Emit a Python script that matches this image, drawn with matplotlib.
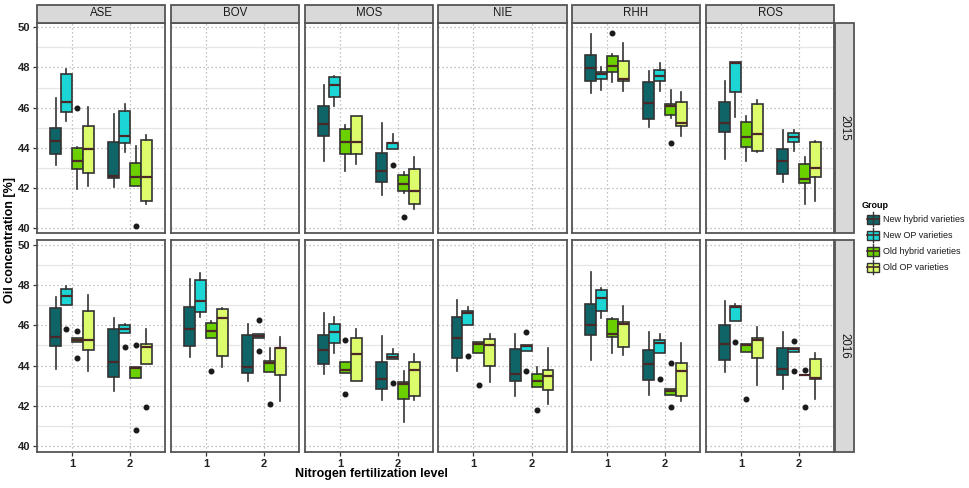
import numpy as np
import matplotlib
matplotlib.use("Agg")
import matplotlib.pyplot as plt
from matplotlib.patches import Rectangle

plt.rcParams['font.family'] = ['Liberation Sans', 'DejaVu Sans']

# facets
sites = ["ASE", "BOV", "MOS", "NIE", "RHH", "ROS"]
years = ["2015", "2016"]
levels = [1, 2]
groups = ["New hybrid varieties", "New OP varieties", "Old hybrid varieties", "Old OP varieties"]
colors = ["#0e6466", "#1cd6d6", "#6ad000", "#dcfc6c"]

# box stats: (whisker low, q1, median, q3, whisker high, outliers)
# order: level 1 (4 groups), then level 2 (4 groups)
ASE_2015 = [
    (43.15, 43.68, 44.36, 44.98, 46.50, []),
    (45.34, 45.80, 46.29, 47.66, 47.91, []),
    (41.97, 42.95, 43.35, 44.00, 44.05, [46.0]),
    (42.09, 42.75, 43.93, 45.07, 46.02, []),
    (42.06, 42.50, 42.62, 44.31, 45.70, []),
    (43.81, 44.25, 44.61, 45.84, 46.20, []),
    (42.11, 42.11, 42.54, 43.25, 44.10, [40.13]),
    (41.18, 41.33, 42.55, 44.38, 44.64, []),
]
MOS_2015 = [
    (43.35, 44.61, 45.17, 46.07, 47.11, []),
    (46.10, 46.53, 47.10, 47.51, 47.55, []),
    (42.87, 43.71, 44.30, 44.94, 45.12, []),
    (43.20, 43.71, 44.30, 45.57, 45.57, []),
    (41.67, 42.31, 42.85, 43.75, 45.21, []),
    (43.93, 43.93, 44.22, 44.26, 44.68, [43.15]),
    (41.77, 41.84, 42.22, 42.64, 42.79, [40.58]),
    (40.95, 41.19, 41.86, 42.95, 43.52, []),
]
RHH_2015 = [
    (46.73, 47.31, 47.96, 48.61, 49.65, []),
    (46.90, 47.43, 47.66, 47.78, 48.04, []),
    (47.26, 47.76, 48.08, 48.57, 48.69, [49.73]),
    (46.82, 47.33, 47.40, 48.31, 49.22, []),
    (45.04, 45.41, 46.24, 47.25, 47.84, []),
    (46.82, 47.31, 47.58, 47.88, 48.23, []),
    (45.49, 45.62, 46.09, 46.19, 46.90, [44.25]),
    (44.58, 45.07, 45.21, 46.27, 46.77, []),
]
ROS_2015 = [
    (43.42, 44.78, 45.22, 46.30, 47.30, []),
    (45.54, 46.77, 48.22, 48.26, 48.26, []),
    (43.32, 44.05, 44.54, 45.29, 45.59, []),
    (43.80, 43.83, 44.68, 46.17, 46.38, []),
    (42.29, 42.70, 43.33, 43.93, 44.89, []),
    (43.85, 44.28, 44.53, 44.74, 44.88, []),
    (41.18, 42.27, 42.44, 43.20, 43.53, []),
    (41.36, 42.57, 43.00, 44.29, 44.36, []),
]
ASE_2016 = [
    (43.81, 44.99, 45.44, 46.87, 47.40, []),
    (47.02, 47.02, 47.47, 47.82, 47.99, [45.81]),
    (45.19, 45.19, 45.27, 45.39, 45.39, [45.71, 44.39]),
    (43.71, 44.76, 45.27, 46.71, 47.50, []),
    (42.75, 43.43, 44.18, 45.81, 46.39, []),
    (45.61, 45.61, 45.81, 46.01, 46.07, [44.94]),
    (43.36, 43.36, 43.89, 43.93, 43.93, [45.04, 40.78]),
    (44.08, 44.08, 44.91, 45.06, 45.84, [41.95]),
]
BOV_2016 = [
    (44.41, 44.99, 45.81, 46.94, 48.34, []),
    (46.44, 46.67, 47.22, 48.25, 48.60, []),
    (45.37, 45.37, 45.74, 46.12, 46.24, [43.73]),
    (43.94, 44.49, 46.36, 46.81, 46.86, []),
    (43.21, 43.61, 43.93, 45.54, 46.06, []),
    (45.39, 45.39, 45.47, 45.56, 45.56, [46.26, 44.71]),
    (43.69, 43.69, 44.11, 44.24, 44.89, [42.08]),
    (42.23, 43.53, 44.86, 44.88, 45.41, []),
]
MOS_2016 = [
    (43.58, 44.08, 44.78, 45.54, 46.61, []),
    (44.64, 45.11, 45.69, 46.06, 46.41, []),
    (43.64, 43.64, 43.78, 44.16, 44.16, [45.26, 42.58]),
    (43.24, 43.24, 44.58, 45.37, 45.84, []),
    (42.28, 42.81, 43.33, 44.18, 45.47, []),
    (44.34, 44.34, 44.44, 44.58, 44.84, [43.14]),
    (41.21, 42.31, 43.08, 43.19, 43.71, []),
    (42.28, 42.50, 43.78, 44.19, 44.56, []),
]
NIE_2016 = [
    (43.71, 44.36, 45.39, 46.41, 47.25, []),
    (46.02, 46.02, 46.64, 46.72, 46.92, [44.48]),
    (44.61, 44.61, 45.06, 45.16, 45.16, [43.04]),
    (43.16, 43.99, 45.03, 45.34, 45.56, []),
    (42.48, 43.21, 43.58, 44.83, 45.59, []),
    (44.74, 44.74, 44.96, 45.03, 45.03, [45.69, 43.71]),
    (42.93, 42.93, 43.23, 43.58, 43.91, [41.76]),
    (42.08, 42.78, 43.49, 43.78, 44.88, []),
]
RHH_2016 = [
    (44.28, 45.54, 46.02, 47.05, 48.67, []),
    (46.36, 46.71, 47.35, 47.77, 47.89, []),
    (44.64, 45.42, 45.56, 46.31, 46.37, []),
    (44.51, 44.91, 46.06, 46.16, 46.96, []),
    (42.55, 43.29, 44.06, 44.76, 45.67, []),
    (44.61, 44.61, 45.14, 45.29, 45.57, [43.34]),
    (42.55, 42.55, 42.71, 42.83, 42.83, [44.13, 41.95]),
    (42.25, 42.48, 43.74, 44.11, 45.14, []),
]
ROS_2016 = [
    (43.68, 44.29, 45.07, 46.02, 47.22, []),
    (46.24, 46.24, 46.93, 46.96, 47.05, [45.19]),
    (44.66, 44.66, 45.01, 45.09, 45.09, [42.31]),
    (43.03, 44.36, 45.29, 45.39, 45.91, []),
    (42.85, 43.54, 43.81, 44.88, 45.66, []),
    (44.66, 44.66, 44.84, 44.88, 44.88, [45.21, 43.73]),
    (43.53, 43.53, 43.53, 43.53, 43.53, [43.78, 41.91]),
    (42.31, 43.33, 43.36, 44.31, 44.61, []),
]

panel_data = {
    ("ASE", "2015"): ASE_2015, ("MOS", "2015"): MOS_2015,
    ("RHH", "2015"): RHH_2015, ("ROS", "2015"): ROS_2015,
    ("ASE", "2016"): ASE_2016, ("BOV", "2016"): BOV_2016,
    ("MOS", "2016"): MOS_2016, ("NIE", "2016"): NIE_2016,
    ("RHH", "2016"): RHH_2016, ("ROS", "2016"): ROS_2016,
}

W, H = 970, 488
fig = plt.figure(figsize=(W / 100, H / 100), dpi=100)
fig.patch.set_facecolor("white")


def fx(px):
    return px / W


def fy(py):
    return 1 - py / H


panel_left = [37, 171, 305, 438.5, 572, 706]
panel_w = 128
rows = [(23, 233), (240, 452)]
ylims = [(39.76, 50.21), (39.69, 50.26)]
box_w = 0.75 / 4
offsets = (np.arange(4) - 1.5) * box_w
edge = "#333333"
med_col = "#4a2828"

for r, year in enumerate(years):
    top, bot = rows[r]
    for c, site in enumerate(sites):
        ax = fig.add_axes([fx(panel_left[c]), fy(bot), fx(panel_w), (bot - top) / H])
        ax.set_xlim(0.4, 2.6)
        ax.set_ylim(*ylims[r])
        ax.set_facecolor("white")
        for yv in [41, 43, 45, 47, 49]:
            ax.axhline(yv, color="#e6e6e6", lw=0.9, zorder=0)
        for yv in [40, 42, 44, 46, 48, 50]:
            ax.axhline(yv, color="#b0b0b0", lw=0.9, ls=(0, (1, 2.2)), zorder=0.5)
        for xv in levels:
            ax.axvline(xv, color="#b0b0b0", lw=0.9, ls=(0, (1, 2.2)), zorder=0.5)
        for s in ax.spines.values():
            s.set_color("#555555")
            s.set_linewidth(1.3)
        stats = panel_data.get((site, year))
        if stats:
            for li, lev in enumerate(levels):
                for g in range(4):
                    lo, q1, med, q3, hi, fl = stats[li * 4 + g]
                    ax.bxp([dict(whislo=lo, q1=q1, med=med, q3=q3, whishi=hi, fliers=fl)],
                           positions=[lev + offsets[g]], widths=box_w,
                           patch_artist=True, showcaps=False, manage_ticks=False,
                           boxprops=dict(facecolor=colors[g], edgecolor=edge, lw=1.2),
                           whiskerprops=dict(color=edge, lw=1.2),
                           medianprops=dict(color=med_col, lw=1.6),
                           flierprops=dict(marker="o", markersize=3.3, markerfacecolor="#1a1a1a",
                                           markeredgecolor="#1a1a1a"))
        ax.set_yticks([40, 42, 44, 46, 48, 50])
        ax.set_xticks(levels)
        ax.tick_params(length=3, width=0.9, color="#333333", labelsize=8, pad=2)
        if c == 0:
            ax.set_yticklabels([str(v) for v in [40, 42, 44, 46, 48, 50]], fontweight="bold", color="#222222")
        else:
            ax.tick_params(axis="y", length=0, labelleft=False)
        if r == 1:
            ax.set_xticklabels([str(v) for v in levels], fontweight="bold", color="#222222")
        else:
            ax.tick_params(axis="x", length=0, labelbottom=False)

        if r == 0:
            fig.patches.append(Rectangle((fx(panel_left[c]), fy(22.5)), fx(panel_w), 18 / H,
                                         transform=fig.transFigure, facecolor="#d9d9d9",
                                         edgecolor="#555555", lw=1.3))
            fig.text(fx(panel_left[c] + panel_w / 2), fy(13.5), site, ha="center", va="center",
                     fontsize=8.3, color="#1a1a1a")
    # right strip
    fig.patches.append(Rectangle((fx(835), fy(bot)), fx(19), (bot - top) / H,
                                 transform=fig.transFigure, facecolor="#d9d9d9",
                                 edgecolor="#555555", lw=1.3))
    fig.text(fx(844.5), fy((top + bot) / 2), year, rotation=-90, ha="center", va="center",
             fontsize=8.3, color="#1a1a1a")

fig.text(fx(10), fy(240), "Oil concentration [%]", rotation=90, ha="center", va="center",
         fontsize=9, fontweight="bold")
fig.text(fx(371), fy(474), "Nitrogen fertilization level", ha="center", va="center",
         fontsize=9, fontweight="bold")

# legend
fig.text(fx(862), fy(205), "Group", ha="left", va="center", fontsize=6.5, fontweight="bold")
lax = fig.add_axes([0, 0, 1, 1])
lax.set_xlim(0, W)
lax.set_ylim(H, 0)
lax.axis("off")
for g, name in enumerate(groups):
    yc = 219 + g * 16
    lax.plot([873, 873], [yc - 7, yc + 7], color=edge, lw=1)
    lax.add_patch(Rectangle((867, yc - 4.5), 12, 9, facecolor=colors[g], edgecolor=edge, lw=1))
    lax.plot([867, 879], [yc, yc], color=med_col, lw=1.2)
    lax.text(883, yc, name, ha="left", va="center", fontsize=6.5, color="#1a1a1a")

fig.savefig("out.png", dpi=100)
